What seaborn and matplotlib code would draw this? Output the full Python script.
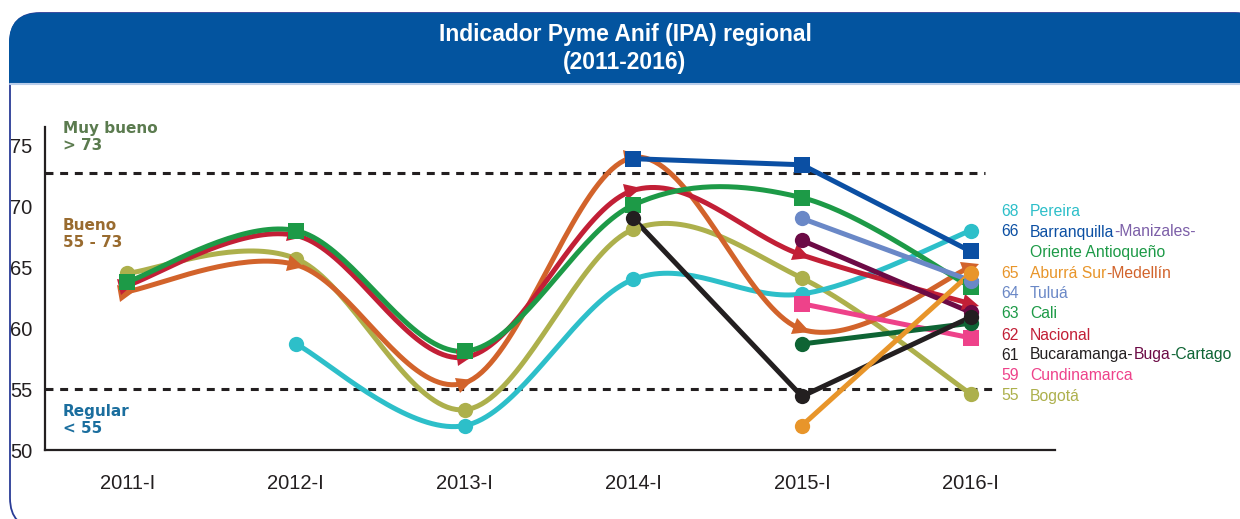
import numpy as np
import pandas as pd
import matplotlib
matplotlib.use("Agg")
import matplotlib.pyplot as plt
import seaborn as sns
from matplotlib.patches import FancyBboxPatch, Rectangle
from matplotlib.markers import MarkerStyle
from matplotlib.transforms import Affine2D

nan = np.nan

# ---------------- data ----------------
periods = ["2011-I", "2012-I", "2013-I", "2014-I", "2015-I", "2016-I"]

pereira      = [nan, 58.7, 52.0, 64.0, 62.8, 68.0]
barranquilla = [nan, nan, nan, 73.9, 73.4, 66.3]
aburra_sur   = [nan, nan, nan, nan, 52.0, 64.5]
medellin     = [63.0, 65.2, 55.5, 74.0, 59.9, 65.0]
tulua        = [nan, nan, nan, nan, 69.0, 63.9]
cali         = [63.8, 68.0, 58.1, 70.1, 70.7, 63.4]
nacional     = [63.5, 67.6, 57.6, 71.3, 66.0, 62.0]
bucaramanga  = [nan, nan, nan, 69.0, 54.4, 60.9]
buga         = [nan, nan, nan, nan, 67.2, 61.3]
cartago      = [nan, nan, nan, nan, 58.7, 60.4]
cundinamarca = [nan, nan, nan, nan, 62.0, 59.2]
bogota       = [64.5, 65.7, 53.3, 68.1, 64.1, 54.6]

legend_values = ["68", "66", "", "65", "64", "63", "62", "61", "59", "55"]

zone_labels = [("Muy bueno\n> 73", "#5B7B4F"), ("Bueno\n55 - 73", "#996B2F"), ("Regular\n< 55", "#1B6E9E")]
threshold_high = 72.7
threshold_low = 55.0

title_lines = ["Indicador Pyme Anif (IPA) regional", "(2011-2016)"]

# ---------------- colours ----------------
C = {
    "pereira": "#2DBFC9", "barranquilla": "#0B4FA3", "manizales": "#7C5FA8",
    "aburra": "#E8952A", "medellin": "#D2632B", "tulua": "#6A88C7",
    "cali": "#1D9A47", "nacional": "#C21F36", "bucaramanga": "#231F20",
    "buga": "#6C0A45", "cartago": "#0E6434", "cundinamarca": "#EE428A",
    "bogota": "#ADB04C",
}

# series: (values, colour, marker, smooth)
series = [
    (bogota, C["bogota"], "o", True),
    (pereira, C["pereira"], "o", True),
    (medellin, C["medellin"], "tri", True),
    (nacional, C["nacional"], "tri", True),
    (cali, C["cali"], "s", True),
    (cundinamarca, C["cundinamarca"], "s", False),
    (cartago, C["cartago"], "o", False),
    (buga, C["buga"], "o", False),
    (tulua, C["tulua"], "o", False),
    (bucaramanga, C["bucaramanga"], "o", False),
    (aburra_sur, C["aburra"], "o", False),
    (barranquilla, C["barranquilla"], "s", False),
]

W, H = 1240, 519
fig = plt.figure(figsize=(W / 100, H / 100), dpi=100)
sns.set_theme(style="white")
plt.rcParams['font.family'] = ['DejaVu Sans']
narrow = ["Liberation Sans", "DejaVu Sans"]

# background axes in pixel coordinates
bg = fig.add_axes([0, 0, 1, 1], zorder=0)
bg.set_xlim(0, W)
bg.set_ylim(H, 0)
bg.axis("off")

frame = FancyBboxPatch((10, 13), 1255, 515, boxstyle="round,pad=0,rounding_size=30",
                       facecolor="white", edgecolor="#2A3C96", linewidth=1.3)
bg.add_patch(frame)
header = FancyBboxPatch((9, 13), 1256, 70, boxstyle="round,pad=0,rounding_size=30",
                        facecolor="#03549F", edgecolor="none")
bg.add_patch(header)
bg.add_patch(Rectangle((9, 50), 1256, 33, facecolor="#03549F", edgecolor="none"))
bg.plot([10, 1240], [84, 84], color="#B9CDEA", lw=1.5)

bg.text(625, 35, title_lines[0], ha="center", va="center", color="white",
        fontsize=16.5, fontweight="bold", family=narrow)
bg.text(625, 63, title_lines[1], ha="center", va="center", color="white",
        fontsize=16.5, fontweight="bold", family=narrow)

# ---------------- main axes ----------------
x0, x1, ytop, ybot = 45, 1055, 127, 450
ax = fig.add_axes([x0 / W, (H - ybot) / H, (x1 - x0) / W, (ybot - ytop) / H], zorder=1)
ax.patch.set_alpha(0)
ax.set_xlim(-0.487, 5.5)
ax.set_ylim(50, 76.5)

px_per_x = (970 - 127) / 5.0
px_per_y = 12.2


def smooth_curve(xs, ys, n=40):
    pts = np.column_stack([xs, ys]).astype(float)
    out = []
    m = len(pts)
    for i in range(m - 1):
        p0 = pts[max(i - 1, 0)]
        p1 = pts[i]
        p2 = pts[i + 1]
        p3 = pts[min(i + 2, m - 1)]
        c1 = p1 + (p2 - p0) / 6.0
        c2 = p2 - (p3 - p1) / 6.0
        t = np.linspace(0, 1, n)[:, None]
        b = (1 - t) ** 3 * p1 + 3 * (1 - t) ** 2 * t * c1 + 3 * (1 - t) * t ** 2 * c2 + t ** 3 * p2
        out.append(b if i == 0 else b[1:])
    b = np.vstack(out)
    return b[:, 0], b[:, 1]


def tangent_angles(xs, ys):
    xs = np.asarray(xs, float)
    ys = np.asarray(ys, float)
    m = len(xs)
    angs = []
    for i in range(m):
        a = max(i - 1, 0)
        b = min(i + 1, m - 1)
        dx = (xs[b] - xs[a]) * px_per_x
        dy = (ys[b] - ys[a]) * px_per_y
        angs.append(np.degrees(np.arctan2(dy, dx)))
    return angs


xpos = np.arange(len(periods))
lw = 3.6
for vals, col, mk, sm in series:
    v = np.array(vals, float)
    ok = ~np.isnan(v)
    xs, ys = xpos[ok], v[ok]
    if sm and len(xs) > 2:
        cx, cy = smooth_curve(xs, ys)
    else:
        cx, cy = xs.astype(float), ys
    df = pd.DataFrame({"x": cx, "y": cy})
    sns.lineplot(data=df, x="x", y="y", ax=ax, color=col, lw=lw, sort=False,
                 estimator=None, solid_capstyle="round", zorder=3)
    if mk == "tri":
        for xx, yy, ang in zip(xs, ys, tangent_angles(xs, ys)):
            ms = MarkerStyle(">", transform=Affine2D().rotate_deg(ang))
            ax.plot([xx], [yy], marker=ms, markersize=12, color=col, lw=0,
                    markeredgewidth=0, zorder=4)
    else:
        pdf = pd.DataFrame({"x": xs, "y": ys})
        sns.scatterplot(data=pdf, x="x", y="y", ax=ax, color=col, marker=mk,
                        s=(11.5 if mk == "s" else 11) ** 2, linewidth=0, zorder=4)

ax.axhline(threshold_high, xmin=0, xmax=(985 - x0) / (x1 - x0), color="#231F20",
           lw=2.2, ls=(0, (2.6, 2.2)), zorder=2)
ax.axhline(threshold_low, xmin=0, xmax=(992 - x0) / (x1 - x0), color="#231F20",
           lw=2.2, ls=(0, (2.6, 2.2)), zorder=2)

ax.set_xticks(xpos)
ax.set_xticklabels(periods)
ax.set_yticks([50, 55, 60, 65, 70, 75])
ax.set_xlabel("")
ax.set_ylabel("")
for lab in ax.get_xticklabels() + ax.get_yticklabels():
    lab.set_family(narrow)
    lab.set_fontsize(14.5)
    lab.set_color("#231F20")
ax.tick_params(axis="x", length=0, pad=17)
ax.tick_params(axis="y", length=0, pad=9)
for s in ["top", "right"]:
    ax.spines[s].set_visible(False)
for s in ["left", "bottom"]:
    ax.spines[s].set_color("#231F20")
    ax.spines[s].set_linewidth(1.6)

# zone labels
zone_y = [137, 234, 420]
for (txt, col), yy in zip(zone_labels, zone_y):
    bg.text(63, yy, txt, ha="left", va="center", color=col, fontsize=11,
            fontweight="bold", linespacing=1.2, zorder=5)

# ---------------- right-side legend ----------------
legend_rows = [
    [("Pereira", C["pereira"])],
    [("Barranquilla", C["barranquilla"]), ("-Manizales-", C["manizales"])],
    [("Oriente Antioqueño", C["cali"])],
    [("Aburrá Sur", C["aburra"]), ("-Medellín", C["medellin"])],
    [("Tuluá", C["tulua"])],
    [("Cali", C["cali"])],
    [("Nacional", C["nacional"])],
    [("Bucaramanga-", C["bucaramanga"]), ("Buga", C["buga"]), ("-Cartago", C["cartago"])],
    [("Cundinamarca", C["cundinamarca"])],
    [("Bogotá", C["bogota"])],
]
legend_num_colors = [C["pereira"], C["barranquilla"], None, C["aburra"], C["tulua"],
                     C["cali"], C["nacional"], C["bucaramanga"], C["cundinamarca"], C["bogota"]]
row_y = [212, 232, 252, 273, 293, 314, 335, 355, 376, 396]

renderer = fig.canvas.get_renderer()
for num, ncol, pieces, yy in zip(legend_values, legend_num_colors, legend_rows, row_y):
    if num:
        bg.text(1001, yy, num, ha="left", va="center", color=ncol, fontsize=11.3,
                family=narrow, zorder=5)
    xx = 1030
    for txt, col in pieces:
        t = bg.text(xx, yy, txt, ha="left", va="center", color=col, fontsize=11.3,
                    family=narrow, zorder=5)
        bb = t.get_window_extent(renderer=renderer)
        xx += bb.width

fig.savefig("out.png", dpi=100)
